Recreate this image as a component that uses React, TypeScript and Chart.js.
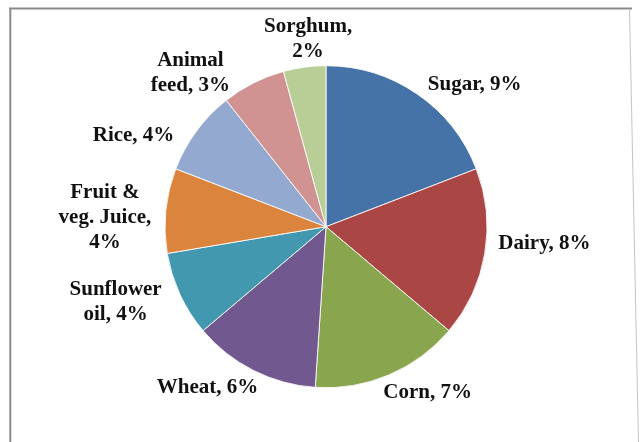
import { useEffect, useRef } from "react";
import { Chart, registerables } from "chart.js";

Chart.register(...registerables);

// ---- data ----
const categories = [
  "Sugar",
  "Dairy",
  "Corn",
  "Wheat",
  "Sunflower oil",
  "Fruit & veg. Juice",
  "Rice",
  "Animal feed",
  "Sorghum",
];
const shares = [9, 8, 7, 6, 4, 4, 4, 3, 2];

// ---- style / layout ----
const sliceColors = [
  "#4572A7",
  "#AA4643",
  "#89A54E",
  "#71588F",
  "#4198AF",
  "#DB843D",
  "#93A9CF",
  "#D19392",
  "#B9CD96",
];
// label placement relative to each slice's mid-angle (degrees) and outer radius
const labelAngleShift = [11.8, -5.1, -8.6, 9.6, 5.2, -3.4, -11.1, -14.7, 2.2];
const labelRadiusFactor = [1.278, 1.361, 1.206, 1.24, 1.388, 1.374, 1.322, 1.271, 1.168];

const LABEL_FONT = "bold 21px 'Liberation Serif', 'Times New Roman', serif";
const LINE_HEIGHT = 25;
const WRAP_WIDTH = 108;

function wrapText(ctx: CanvasRenderingContext2D, text: string, maxW: number): string[] {
  const words = text.split(" ");
  const lines: string[] = [];
  let cur = "";
  for (const w of words) {
    const test = cur ? cur + " " + w : w;
    if (cur && ctx.measureText(test).width > maxW) {
      lines.push(cur);
      cur = w;
    } else {
      cur = test;
    }
  }
  if (cur) lines.push(cur);
  return lines;
}

const framePlugin = {
  id: "frame",
  beforeDraw(chart: any) {
    const ctx = chart.ctx as CanvasRenderingContext2D;
    ctx.save();
    ctx.fillStyle = "#ffffff";
    ctx.fillRect(0, 0, chart.width, chart.height);
    ctx.strokeStyle = "#8a8a8a";
    ctx.lineWidth = 2;
    ctx.beginPath();
    ctx.moveTo(9, 8.5);
    ctx.lineTo(632, 8.5);
    ctx.moveTo(10.3, 8);
    ctx.lineTo(10.3, 442);
    ctx.stroke();
    ctx.strokeStyle = "#c4c4c4";
    ctx.lineWidth = 1;
    ctx.beginPath();
    ctx.moveTo(629.5, 9);
    ctx.lineTo(638.5, 442);
    ctx.stroke();
    ctx.restore();
  },
};

const labelPlugin = {
  id: "outsideLabels",
  afterDatasetsDraw(chart: any) {
    const ctx = chart.ctx as CanvasRenderingContext2D;
    const meta = chart.getDatasetMeta(0);
    ctx.save();
    ctx.font = LABEL_FONT;
    ctx.fillStyle = "#111111";
    ctx.textAlign = "center";
    ctx.textBaseline = "middle";
    meta.data.forEach((arc: any, i: number) => {
      const p = arc.getProps(["x", "y", "startAngle", "endAngle", "outerRadius"], true);
      const mid = (p.startAngle + p.endAngle) / 2 + (labelAngleShift[i] * Math.PI) / 180;
      const r = p.outerRadius * labelRadiusFactor[i];
      const cx = p.x + Math.cos(mid) * r;
      const cy = p.y + Math.sin(mid) * r;
      const lines = wrapText(ctx, `${categories[i]}, ${shares[i]}%`, WRAP_WIDTH);
      lines.forEach((ln, k) => {
        ctx.fillText(ln, cx, cy + (k - (lines.length - 1) / 2) * LINE_HEIGHT);
      });
    });
    ctx.restore();
  },
};

export default function App() {
  const ref = useRef<HTMLCanvasElement | null>(null);

  useEffect(() => {
    document.body.style.margin = "0";
    const canvas = ref.current;
    if (!canvas) return;
    const chart = new Chart(canvas, {
      type: "pie",
      data: {
        labels: categories,
        datasets: [
          {
            data: shares,
            backgroundColor: sliceColors,
            borderColor: "rgba(255,255,255,0.85)",
            borderWidth: 1,
          },
        ],
      },
      options: {
        responsive: false,
        animation: false,
        devicePixelRatio: 1,
        layout: { padding: { top: 65.2, bottom: 53.8, left: 100, right: 88 } },
        plugins: {
          legend: { display: false },
          title: { display: false },
          tooltip: { enabled: false },
        },
      },
      plugins: [framePlugin, labelPlugin],
    });
    return () => chart.destroy();
  }, []);

  return <canvas ref={ref} width={640} height={442} style={{ display: "block" }} />;
}
